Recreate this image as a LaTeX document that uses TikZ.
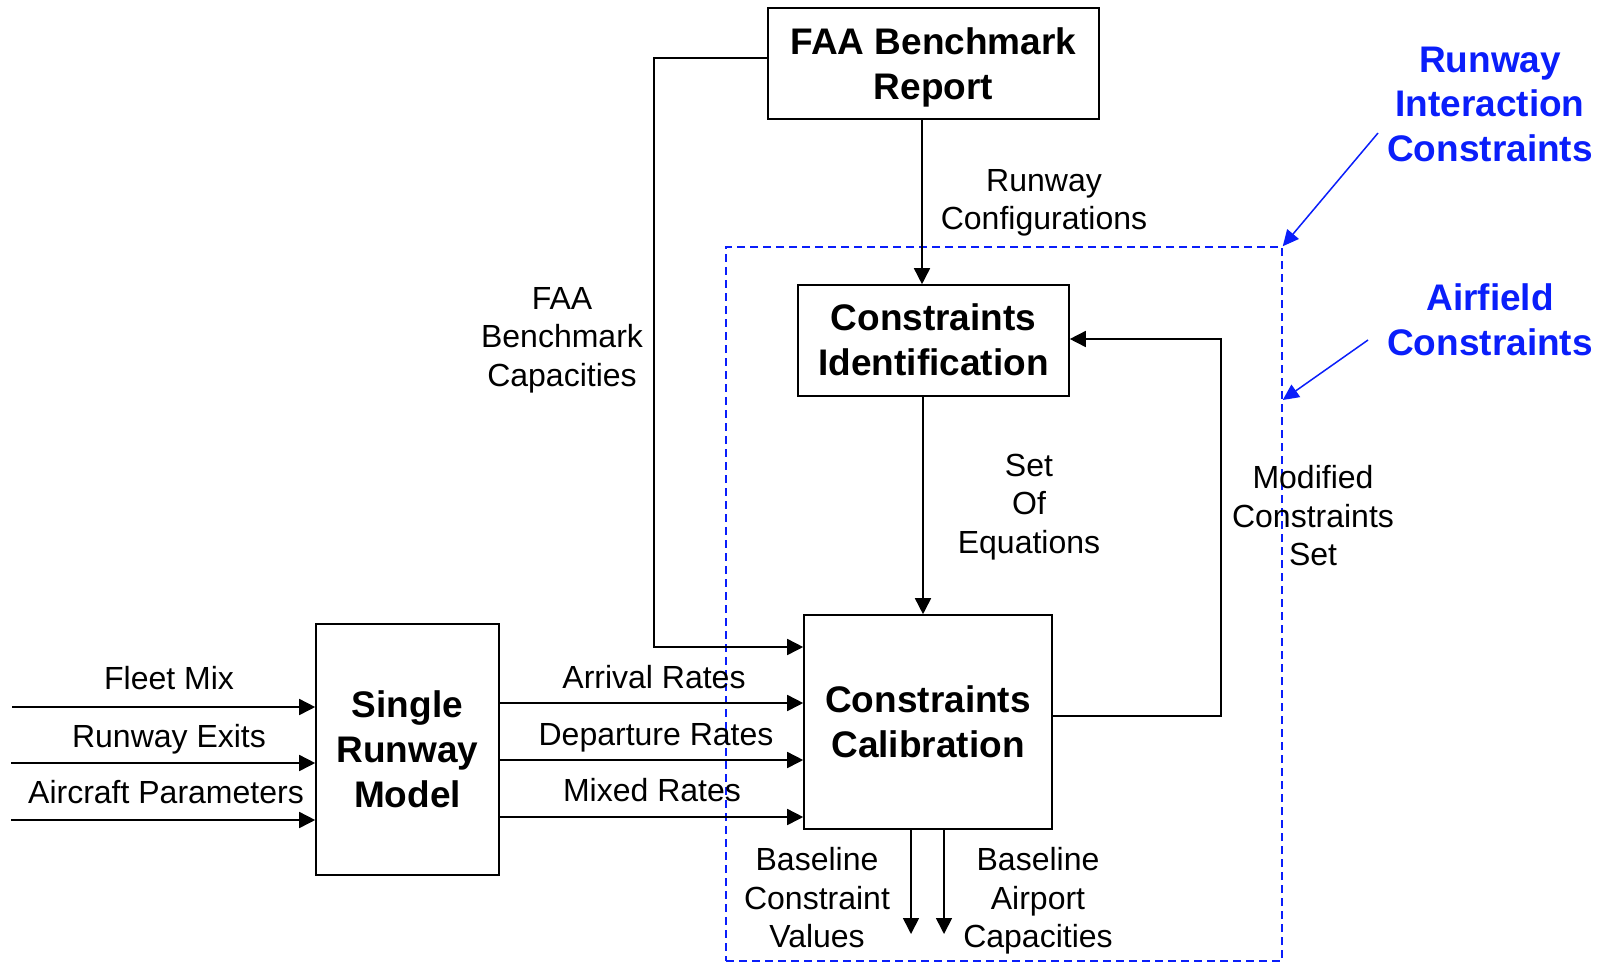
\documentclass[tikz,border=0pt]{standalone}
\usepackage{fontspec}
\setmainfont{Liberation Sans}
\usetikzlibrary{arrows.meta}
\definecolor{rblue}{RGB}{10,30,250}
\tikzset{
 box/.style={draw, line width=1.6pt, inner sep=0pt, align=center, text depth=0pt, font=\fontsize{37}{45}\selectfont\bfseries},
 lbl/.style={inner sep=0pt, align=center, font=\fontsize{32}{38.5}\selectfont},
 blbl/.style={inner sep=0pt, align=center, text=rblue, font=\fontsize{37}{44.5}\selectfont\bfseries},
 conn/.style={line width=1.6pt},
 arr/.style={conn, -{Triangle[length=16pt,width=16pt]}},
 barr/.style={line width=1.5pt, rblue, -{Triangle[length=16pt,width=15pt]}},
 zonebox/.style={draw=rblue, line width=1.5pt, dash pattern=on 8pt off 5pt, inner sep=0pt},
}
\begin{document}
\begin{tikzpicture}[x=1pt,y=-1pt]
\useasboundingbox (0,0) rectangle (1608,964);
% zone
\node[zonebox, minimum width=556pt, minimum height=714pt] (zone) at (1004,604) {};
% boxes
\node[box, minimum width=331pt, minimum height=111pt] (faa) at (933.5,63.5) {FAA Benchmark\\Report};
\node[box, minimum width=271pt, minimum height=111pt, text depth=2pt] (ci) at (933.5,340.5) {Constraints\\Identification};
\node[box, minimum width=248pt, minimum height=214pt, text depth=-4pt] (cc) at (928,722) {Constraints\\Calibration};
\node[box, minimum width=183pt, minimum height=251pt, text depth=-8pt] (srm) at (407.5,749.5) {Single\\Runway\\Model};
% helper coordinates
\coordinate (xa) at (922,0);
\coordinate (xb) at (923,0);
\coordinate (fl) at (654,58);
\coordinate (fb) at (654,647);
\coordinate (fr1) at (1221,716);
\coordinate (fr2) at (1221,339);
\coordinate (in1) at (12,707);
\coordinate (in2) at (11,763);
\coordinate (in3) at (11,820);
\coordinate (r1) at (0,703);
\coordinate (r2) at (0,760);
\coordinate (r3) at (0,817);
\coordinate (o1) at (911,934);
\coordinate (o2) at (944,934);
\coordinate (bs1) at (1378,133);
\coordinate (bs2) at (1368,340);
\coordinate (zr) at (0,400);
% connectors
\draw[arr] (faa.south -| xa) -- (ci.north -| xa);
\draw[arr] (ci.south -| xb) -- (cc.north -| xb);
\draw[arr] (faa.west |- fl) -- (fl) -- (fb) -- (cc.west |- fb);
\draw[arr] (cc.east |- fr1) -- (fr1) -- (fr2) -- (ci.east |- fr2);
\draw[arr] (in1) -- (srm.west |- in1);
\draw[arr] (in2) -- (srm.west |- in2);
\draw[arr] (in3) -- (srm.west |- in3);
\draw[arr] (srm.east |- r1) -- (cc.west |- r1);
\draw[arr] (srm.east |- r2) -- (cc.west |- r2);
\draw[arr] (srm.east |- r3) -- (cc.west |- r3);
\draw[arr] (cc.south -| o1) -- (o1);
\draw[arr] (cc.south -| o2) -- (o2);
\draw[barr] (bs1) -- (zone.north east);
\draw[barr] (bs2) -- (zone.east |- zr);
% labels
\node[blbl] (ric) at (1490,104) {Runway\\Interaction\\Constraints};
\node[blbl] (afc) at (1490,320) {Airfield\\Constraints};
\node[lbl] (rc) at (1044,203) {Runway\\Configurations};
\node[lbl] (fbc) at (562,340) {FAA\\Benchmark\\Capacities};
\node[lbl] (soe) at (1029,507) {Set\\Of\\Equations};
\node[lbl] (mcs) at (1313,516) {Modified\\Constraints\\Set};
\node[lbl] (fm) at (169,678) {Fleet Mix};
\node[lbl] (re) at (169,739) {Runway Exits};
\node[lbl] (ap) at (166,792) {Aircraft Parameters};
\node[lbl] (ar) at (654,677) {Arrival Rates};
\node[lbl] (dr) at (656,738) {Departure Rates};
\node[lbl] (mr) at (652,790) {Mixed Rates};
\node[lbl] (bcv) at (817,898) {Baseline\\Constraint\\Values};
\node[lbl] (bac) at (1038,901) {Baseline\\Airport\\Capacities};
\end{tikzpicture}
\end{document}
